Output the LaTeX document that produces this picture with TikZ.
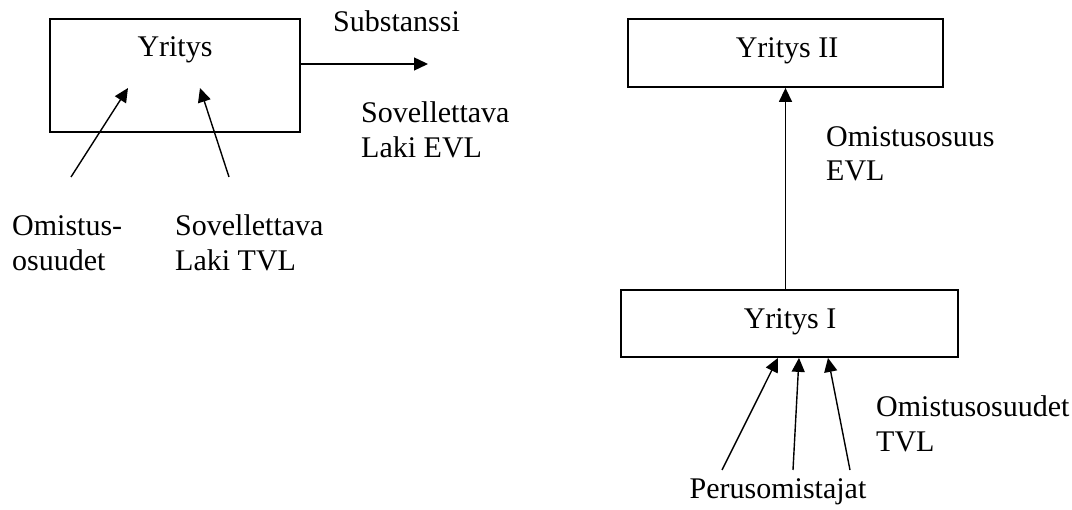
\documentclass[tikz,border=0pt]{standalone}
\usepackage{fontspec}
\setmainfont{Liberation Serif}
\usetikzlibrary{arrows.meta}
\begin{document}
\begin{tikzpicture}[x=1pt,y=-1pt,
  box/.style={draw,line width=1.8pt,inner sep=0pt},
  txt/.style={inner sep=0pt,font=\fontsize{30}{34.5}\selectfont},
  mtxt/.style={txt,align=left,anchor=base west},
  arr/.style={line width=1.4pt,-{Triangle[length=14pt,width=13pt]}}]
\useasboundingbox (0,0) rectangle (1072,510);

% left part: one company with its inputs
\node[box,minimum width=250pt,minimum height=113pt] (yr) at (175,75.5) {};
\node[txt,anchor=base] (yrt) at (175,57) {Yritys};
\node[txt,anchor=base west] (sub) at (333,32) {Substanssi};
% two-line labels: the base anchor sits on the last line
\node[mtxt] (slevl) at (361,157.2) {Sovellettava\\Laki EVL};
\node[mtxt] (omo) at (12,270.2) {Omistus-\\osuudet};
\node[mtxt] (sltvl) at (175,270.2) {Sovellettava\\Laki TVL};

\coordinate (subtip) at (428,64);
\coordinate (o1s) at (71,177);
\coordinate (o1e) at (128,88);
\coordinate (o2s) at (229,177);
\coordinate (o2e) at (200,88);
\draw[arr] (yr.east |- subtip) -- (subtip);
\draw[arr] (o1s) -- (o1e);
\draw[arr] (o2s) -- (o2e);

% right part: two-level ownership chain
\node[box,minimum width=315pt,minimum height=68pt] (y2) at (785.5,53) {};
\node[txt,anchor=base] (y2t) at (787,57.3) {Yritys II};
\node[box,minimum width=337pt,minimum height=67pt] (y1) at (789.5,323.5) {};
\node[txt,anchor=base] (y1t) at (790,329) {Yritys I};
\node[mtxt] (oevl) at (826,181) {Omistusosuus\\EVL};
\node[mtxt] (otvl) at (876,451.5) {Omistusosuudet\\TVL};
\node[txt,anchor=base] (per) at (778,498.3) {Perusomistajat};

\draw[arr] (y2.south |- y1.north) -- (y2.south);

\coordinate (p1s) at (722,470);
\coordinate (p1e) at (778,357);
\coordinate (p2s) at (793,470);
\coordinate (p2e) at (799,357);
\coordinate (p3s) at (850,470);
\coordinate (p3e) at (828,357);
\draw[arr] (p1s) -- (p1e |- y1.south);
\draw[arr] (p2s) -- (p2e |- y1.south);
\draw[arr] (p3s) -- (p3e |- y1.south);
\end{tikzpicture}
\end{document}
